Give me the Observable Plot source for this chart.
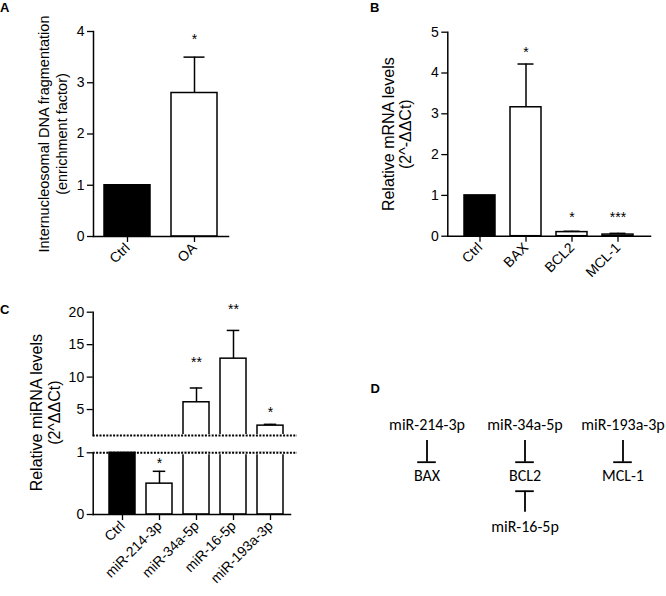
<!DOCTYPE html>
<html>
<head>
<meta charset="utf-8">
<script src="https://cdn.jsdelivr.net/npm/d3@7"></script>
<script src="https://cdn.jsdelivr.net/npm/@observablehq/plot@0.6"></script>
<style>
  body { margin: 0; background: #fff; }
  #fig { position: relative; width: 666px; height: 596px; overflow: hidden; font-family: "Liberation Sans", Arial, sans-serif; color: #000; }
  .panel { position: absolute; }
  .letter { position: absolute; font: bold 13px/13px "Liberation Sans", Arial, sans-serif; }
</style>
</head>
<body>
<div id="fig"></div>
<script>
// ---------- Panel A ----------
const aCategories = ["Ctrl", "OA"];
const aValues = [1.0, 2.80];
const aErrors = [0, 0.70];
const aSig = ["", "*"];
const aSigY = [null, 3.84];
const aTicks = [0, 1, 2, 3, 4];
const aYLabel = "Internucleosomal DNA fragmentation\n(enrichment factor)";

// ---------- Panel B ----------
const bCategories = ["Ctrl", "BAX", "BCL2", "MCL-1"];
const bValues = [1.0, 3.16, 0.10, 0.04];
const bErrors = [0, 1.06, 0.02, 0.03];
const bSig = ["", "*", "*", "***"];
const bSigY = [null, 4.51, 0.46, 0.46];
const bTicks = [0, 1, 2, 3, 4, 5];
const bYLabel = "Relative mRNA levels\n(2^-ΔΔCt)";

// ---------- Panel C ----------
const cCategories = ["Ctrl", "miR-214-3p", "miR-34a-5p", "miR-16-5p", "miR-193a-3p"];
const cValues = [1.0, 0.50, 6.12, 12.84, 2.52];
const cErrors = [0, 0.20, 2.20, 4.35, 0.20];
const cSig = ["", "*", "**", "**", "*"];
const cSigY = [null, 0.83, 12.19, 20.49, 4.51];
const cUpperTicks = [5, 10, 15, 20];
const cLowerTicks = [0, 1];
const cBreak = 1;
const cYLabel = "Relative miRNA levels\n(2^ΔΔCt)";

// ---------- Panel D ----------
const dTargets = ["BAX", "BCL2", "MCL-1"];
const dRegulators = ["miR-214-3p", "miR-34a-5p", "miR-16-5p", "miR-193a-3p"];
const dRegTargets = ["BAX", "BCL2", "BCL2", "MCL-1"];
const dRegSides = ["above", "above", "below", "above"];
const dRows = ["above", "target", "below"];

const panelLetters = ["A", "B", "C", "D"];

// ---------- helpers ----------
const fig = document.getElementById("fig");
function place(node, left, top) {
  const d = document.createElement("div");
  d.className = "panel";
  d.style.left = left + "px";
  d.style.top = top + "px";
  d.appendChild(node);
  fig.appendChild(d);
}
function letter(t, left, top) {
  const d = document.createElement("div");
  d.className = "letter";
  d.style.left = left + "px";
  d.style.top = top + "px";
  d.textContent = t;
  fig.appendChild(d);
}
const FONT = '"Liberation Sans", Arial, sans-serif';
const baseStyle = {
  fontFamily: FONT,
  fontSize: "14px",
  background: "transparent",
  overflow: "visible",
  color: "#000"
};
const rows = (cats, vals, errs, sig, sigY) =>
  cats.map((c, i) => ({cat: c, value: vals[i], err: errs[i], sig: sig[i], sigY: sigY[i], fill: c === "Ctrl" ? "black" : "white"}));
const SW = 1.5;
const fmt = d3.format("d");
const yAxis = (ticks) => Plot.axisY({ticks, tickFormat: fmt, tickSize: 6, tickPadding: 3, fontSize: 14, fontFamily: FONT, label: null, strokeWidth: 1.3});
const xAxis = () => Plot.axisX({tickRotate: -45, tickSize: 6, tickPadding: 3, fontSize: 14, fontFamily: FONT, label: null, strokeWidth: 1.3});
const yLabel = (label, opts) => Plot.text([label], {text: d => d, frameAnchor: "left", textAnchor: "middle", lineAnchor: "middle", rotate: -90, fontFamily: FONT, ...opts});
const stars = (data) => Plot.text(data.filter(d => d.sig), {x: "cat", y: "sigY", text: "sig", fontSize: 14, fontFamily: FONT, lineAnchor: "middle"});

// ---------- Plot A ----------
const aData = rows(aCategories, aValues, aErrors, aSig, aSigY);
const plotA = Plot.plot({
  width: 330, height: 300,
  marginLeft: 93, marginRight: 102, marginTop: 31, marginBottom: 64,
  style: baseStyle,
  color: {type: "identity"},
  x: {type: "band", domain: aCategories, paddingInner: 0.31, paddingOuter: 0.15, label: null},
  y: {domain: [0, 4], label: null},
  marks: [
    Plot.barY(aData, {x: "cat", y1: 0, y2: "value", fill: "fill", stroke: "black", strokeWidth: SW}),
    Plot.ruleX(aData.filter(d => d.err > 0), {x: "cat", y1: "value", y2: d => d.value + d.err, strokeWidth: SW}),
    Plot.tickY(aData.filter(d => d.err > 0), {x: "cat", y: d => d.value + d.err, insetLeft: 12.5, insetRight: 12.5, strokeWidth: SW}),
    stars(aData),
    Plot.frame({anchor: "left", strokeWidth: SW}),
    Plot.frame({anchor: "bottom", strokeWidth: SW}),
    yAxis(aTicks),
    xAxis(),
    yLabel(aYLabel, {dx: -41.5, fontSize: 14.5, lineHeight: 1.27})
  ]
});
place(plotA, 0, 0);

// ---------- Plot B ----------
const bData = rows(bCategories, bValues, bErrors, bSig, bSigY);
const plotB = Plot.plot({
  width: 336, height: 300,
  marginLeft: 117.3, marginRight: 16, marginTop: 31.7, marginBottom: 64.3,
  style: baseStyle,
  color: {type: "identity"},
  x: {type: "band", domain: bCategories, paddingInner: 0.328, paddingOuter: 0.325, label: null},
  y: {domain: [0, 5], label: null},
  marks: [
    Plot.barY(bData, {x: "cat", y1: 0, y2: "value", fill: "fill", stroke: "black", strokeWidth: SW}),
    Plot.ruleX(bData.filter(d => d.err > 0), {x: "cat", y1: "value", y2: d => d.value + d.err, strokeWidth: SW}),
    Plot.tickY(bData.filter(d => d.err > 0), {x: "cat", y: d => d.value + d.err, insetLeft: 7.5, insetRight: 7.5, strokeWidth: SW}),
    stars(bData),
    Plot.frame({anchor: "left", strokeWidth: SW}),
    Plot.frame({anchor: "bottom", strokeWidth: SW}),
    yAxis(bTicks),
    xAxis(),
    yLabel(bYLabel, {dx: -51, fontSize: 16, lineHeight: 1.12})
  ]
});
place(plotB, 330, 0);

// ---------- Plot C (broken axis: upper and lower segments) ----------
const cData = rows(cCategories, cValues, cErrors, cSig, cSigY);
const cX = {type: "band", domain: cCategories, paddingInner: 0.30, paddingOuter: 0.253, align: 0.68, label: null};
const dotted = {stroke: "black", strokeWidth: 2, strokeDasharray: "2,1.4", insetRight: -7};
const cUp = cData.filter(d => d.value > cBreak);
const cLo = cData.filter(d => d.value <= cBreak);

const plotCUpper = Plot.plot({
  width: 330, height: 140,
  marginLeft: 92.7, marginRight: 40, marginTop: 11.7, marginBottom: 5,
  style: baseStyle,
  color: {type: "identity"},
  x: {...cX, axis: null},
  y: {domain: [cBreak, 20], label: null},
  marks: [
    Plot.barY(cUp, {x: "cat", y1: cBreak, y2: "value", fill: "white", stroke: "black", strokeWidth: SW}),
    Plot.ruleX(cUp.filter(d => d.err > 0), {x: "cat", y1: "value", y2: d => d.value + d.err, strokeWidth: SW}),
    Plot.tickY(cUp.filter(d => d.err > 0), {x: "cat", y: d => d.value + d.err, insetLeft: 6.75, insetRight: 6.75, strokeWidth: SW}),
    stars(cUp),
    Plot.ruleY([cBreak], {stroke: "white", strokeWidth: 3}),
    Plot.ruleY([cBreak], dotted),
    Plot.frame({anchor: "left", strokeWidth: SW}),
    yAxis(cUpperTicks)
  ]
});
place(plotCUpper, 0, 300);

const plotCLower = Plot.plot({
  width: 330, height: 156,
  marginLeft: 92.7, marginRight: 40, marginTop: 12.3, marginBottom: 82,
  style: baseStyle,
  color: {type: "identity"},
  x: cX,
  y: {domain: [0, cBreak], label: null},
  marks: [
    Plot.barY(cData.filter(d => d.cat !== "Ctrl"), {x: "cat", y1: 0, y2: d => Math.min(d.value, cBreak), fill: "white", stroke: "black", strokeWidth: SW}),
    Plot.ruleX(cLo.filter(d => d.err > 0), {x: "cat", y1: "value", y2: d => d.value + d.err, strokeWidth: SW}),
    Plot.tickY(cLo.filter(d => d.err > 0), {x: "cat", y: d => d.value + d.err, insetLeft: 6.75, insetRight: 6.75, strokeWidth: SW}),
    stars(cLo),
    Plot.ruleY([cBreak], {stroke: "white", strokeWidth: 3}),
    Plot.barY(cData.filter(d => d.cat === "Ctrl"), {x: "cat", y1: 0, y2: "value", fill: "black", stroke: "black", strokeWidth: SW}),
    Plot.ruleY([cBreak], dotted),
    Plot.frame({anchor: "left", strokeWidth: SW}),
    Plot.frame({anchor: "bottom", strokeWidth: SW}),
    yAxis(cLowerTicks),
    xAxis(),
    yLabel(cYLabel, {dx: -47.7, dy: -71, fontSize: 16, lineHeight: 1.1})
  ]
});
place(plotCLower, 0, 440);

// ---------- Plot D (inhibition diagram) ----------
const dRegs = dRegulators.map((m, i) => ({mir: m, target: dRegTargets[i], side: dRegSides[i]}));
const dAbove = dRegs.filter(d => d.side === "above");
const dBelow = dRegs.filter(d => d.side === "below");
const dFont = 'Carlito, Lato, sans-serif';
const plotD = Plot.plot({
  width: 336, height: 296,
  marginLeft: 57.4, marginRight: 3.4, marginTop: 124, marginBottom: 70,
  style: {...baseStyle, fontFamily: dFont},
  x: {type: "band", domain: dTargets, paddingInner: 0.6, paddingOuter: 0.2, axis: null},
  y: {type: "point", domain: dRows, padding: 0, axis: null},
  marks: [
    Plot.text(dTargets, {x: d => d, y: () => "target", text: d => d, fontSize: 16, fontFamily: dFont}),
    Plot.text(dRegs, {x: "target", y: "side", text: "mir", fontSize: 16, fontFamily: dFont}),
    Plot.ruleX(dAbove, {x: "target", y1: () => "above", y2: () => "target", insetTop: 16, insetBottom: 13.3, strokeWidth: 1.8}),
    Plot.tickY(dAbove, {x: "target", y: () => "target", dy: -13.3, insetLeft: 10.2, insetRight: 10.2, strokeWidth: 1.8}),
    Plot.ruleX(dBelow, {x: "target", y1: () => "target", y2: () => "below", insetTop: 15.7, insetBottom: 14.3, strokeWidth: 1.8}),
    Plot.tickY(dBelow, {x: "target", y: () => "target", dy: 15.7, insetLeft: 10.2, insetRight: 10.2, strokeWidth: 1.8})
  ]
});
place(plotD, 330, 300);

// ---------- panel letters ----------
letter(panelLetters[0], 0, 1);
letter(panelLetters[1], 370, 1);
letter(panelLetters[2], 0, 303);
letter(panelLetters[3], 370.5, 382);
</script>
</body>
</html>
